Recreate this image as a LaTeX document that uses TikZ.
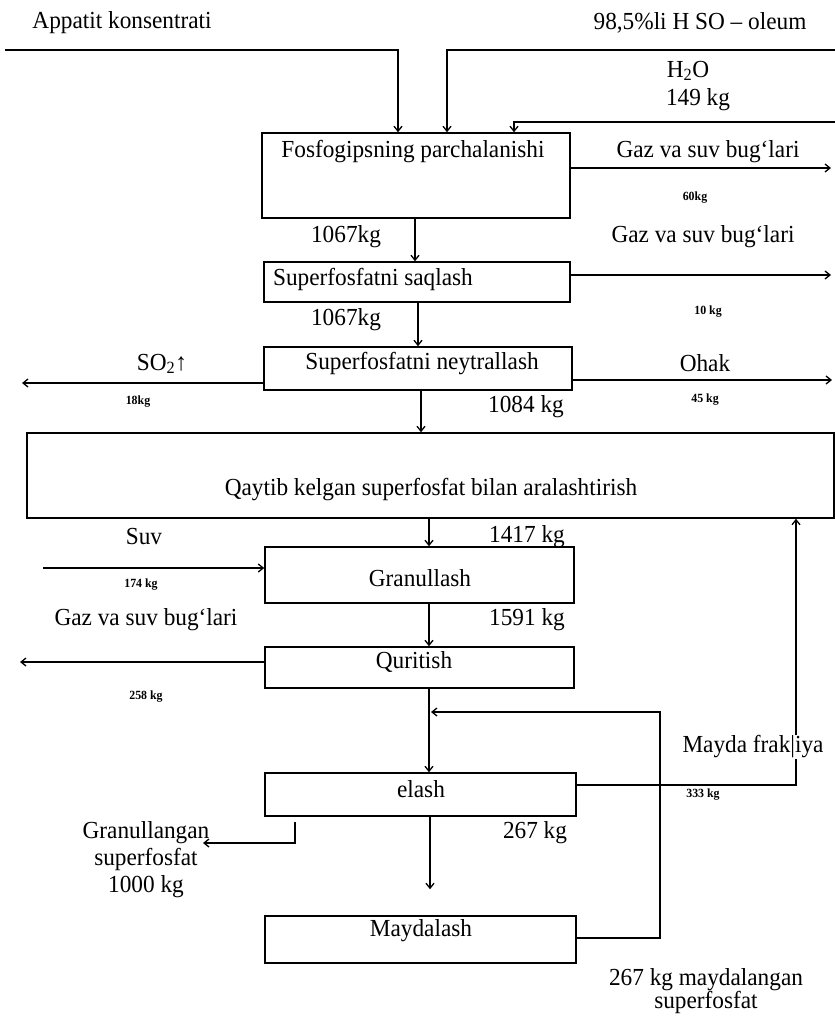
\documentclass[tikz,border=0pt]{standalone}
\usepackage{fontspec}
\setmainfont[FakeStretch=0.95]{Liberation Serif}
\usetikzlibrary{arrows.meta,calc}
\begin{document}
\begin{tikzpicture}[x=1pt,y=-1pt,
  box/.style={draw,line width=1.5pt,inner sep=0pt},
  flow/.style={line width=1.5pt},
  arr/.style={flow,-{Straight Barb[length=5pt,width=8pt,line width=1.3pt]}},
  lbl/.style={inner sep=0pt,font=\fontsize{24.5}{26}\selectfont},
  kg/.style={inner sep=0pt,font=\fontsize{12.5}{14}\selectfont\bfseries},
]
\useasboundingbox (0,0) rectangle (835,1017);

% process boxes
\node[box,minimum width=308pt,minimum height=85pt] (b1) at (416,175.5) {};
\node[box,minimum width=306pt,minimum height=40pt] (b2) at (417,282) {};
\node[box,minimum width=308pt,minimum height=43pt] (b3) at (418,368.5) {};
\node[box,minimum width=807pt,minimum height=85pt] (b4) at (430.5,475.5) {};
\node[box,minimum width=309pt,minimum height=56pt] (b5) at (419.5,575) {};
\node[box,minimum width=309pt,minimum height=41pt] (b6) at (419.5,667.5) {};
\node[box,minimum width=311pt,minimum height=43pt] (b7) at (420.5,794.5) {};
\node[box,minimum width=311pt,minimum height=47pt] (b8) at (420.5,939.5) {};

% box texts
\node[lbl] (t1) at (413,152) {Fosfogipsning parchalanishi};
\node[lbl] (t2) at (373,279) {Superfosfatni saqlash};
\node[lbl] (t3) at (422,364) {Superfosfatni neytrallash};
\node[lbl] (t4) at (431,490) {Qaytib kelgan superfosfat bilan aralashtirish};
\node[lbl] (t5) at (420,578) {Granullash};
\node[lbl] (t6) at (414,662) {Quritish};
\node[lbl] (t7) at (421,789) {elash};
\node[lbl] (t8) at (421,931) {Maydalash};

% feed labels
\node[lbl] (appatit) at (122,23) {Appatit konsentrati};
\node[lbl] (oleum) at (700,23) {98,5\%li H SO – oleum};
\node[lbl] (water) at (688,71) {H\textsubscript{2}O};
\node[lbl] (w149) at (698,100) {149 kg};

% free ends of feed and outlet lines
\coordinate (fa) at (5,50);
\coordinate (fo) at (835,50);
\coordinate (fw) at (835,122);
\coordinate (g1) at (831,168);
\coordinate (g2) at (831,275);
\coordinate (so) at (22,383);
\coordinate (oh) at (832,380);
\coordinate (suv) at (43,568);
\coordinate (g3) at (20,662);
\coordinate (gr) at (203,843);
\coordinate (gt) at (295,822);

% feeds into the first box
\draw[arr] (fa) -- (398,50) -- (398,50 |- b1.north);
\draw[arr] (fo) -- (447,50) -- (447,50 |- b1.north);
\draw[arr] (fw) -- (514,122) -- (514,122 |- b1.north);

% outlets and side streams
\draw[arr] (b1.east |- g1) -- (g1);
\node[lbl] (gaz1) at (708,152) {Gaz va suv bug‘lari};
\node[kg] (kg60) at (695,198) {60kg};

\draw[arr] (b2.east |- g2) -- (g2);
\node[lbl] (gaz2) at (703,237) {Gaz va suv bug‘lari};
\node[kg] (kg10) at (708,312) {10 kg};

\draw[arr] (b3.west |- so) -- (so);
\node[lbl] (so2) at (162,364) {SO\textsubscript{2}↑};
\node[kg] (kg18) at (138,402) {18kg};

\draw[arr] (b3.east |- oh) -- (oh);
\node[lbl] (ohak) at (705,363) {Ohak};
\node[kg] (kg45) at (705,400) {45 kg};

\draw[arr] (suv) -- (b5.west |- suv);
\node[lbl] (suvt) at (144,537) {Suv};
\node[kg] (kg174) at (141,585) {174 kg};

\draw[arr] (b6.west |- g3) -- (g3);
\node[lbl] (gaz3) at (146,620) {Gaz va suv bug‘lari};
\node[kg] (kg258) at (146,697) {258 kg};

% main flow
\draw[arr] (415,0 |- b1.south) -- (415,0 |- b2.north);
\node[lbl] (m1067a) at (346,237) {1067kg};
\draw[arr] (418,0 |- b2.south) -- (418,0 |- b3.north);
\node[lbl] (m1067b) at (346,320) {1067kg};
\draw[arr] (421,0 |- b3.south) -- (421,0 |- b4.north);
\node[lbl] (m1084) at (526,407) {1084 kg};
\draw[arr] (429,0 |- b4.south) -- (429,0 |- b5.north);
\node[lbl] (m1417) at (527,537) {1417 kg};
\draw[arr] (429,0 |- b5.south) -- (429,0 |- b6.north);
\node[lbl] (m1591) at (527,620) {1591 kg};
\draw[arr] (429,0 |- b6.south) -- (429,0 |- b7.north);
\draw[arr] (430,0 |- b7.south) -- ($(430,0 |- b8.north)+(0,-26)$);
\node[lbl] (m267) at (535,833) {267 kg};

% screening outputs
\draw[arr] (gt) -- (295,843) -- (gr);
\node[lbl,align=center,font=\fontsize{24.5}{27}\selectfont] (prod) at (146,860)
  {Granullangan\\superfosfat\\1000 kg};

% recycle of fine fraction to mixing
\draw[arr] (b7.east |- 0,785) -- (796,785) -- (796,0 |- b4.south);
\node[lbl,fill=white,inner sep=1pt] (fine) at (753,747) {Mayda frak|iya};
\node[kg] (kg333) at (703,795) {333 kg};

% crushed product back to screening
\draw[arr] (b8.east |- 0,938) -- (660,938) -- (660,712) -- (431,712);
\node[lbl,align=center,font=\fontsize{24.5}{23}\selectfont] (crushed) at (706,991)
  {267 kg maydalangan\\superfosfat};
\end{tikzpicture}
\end{document}
